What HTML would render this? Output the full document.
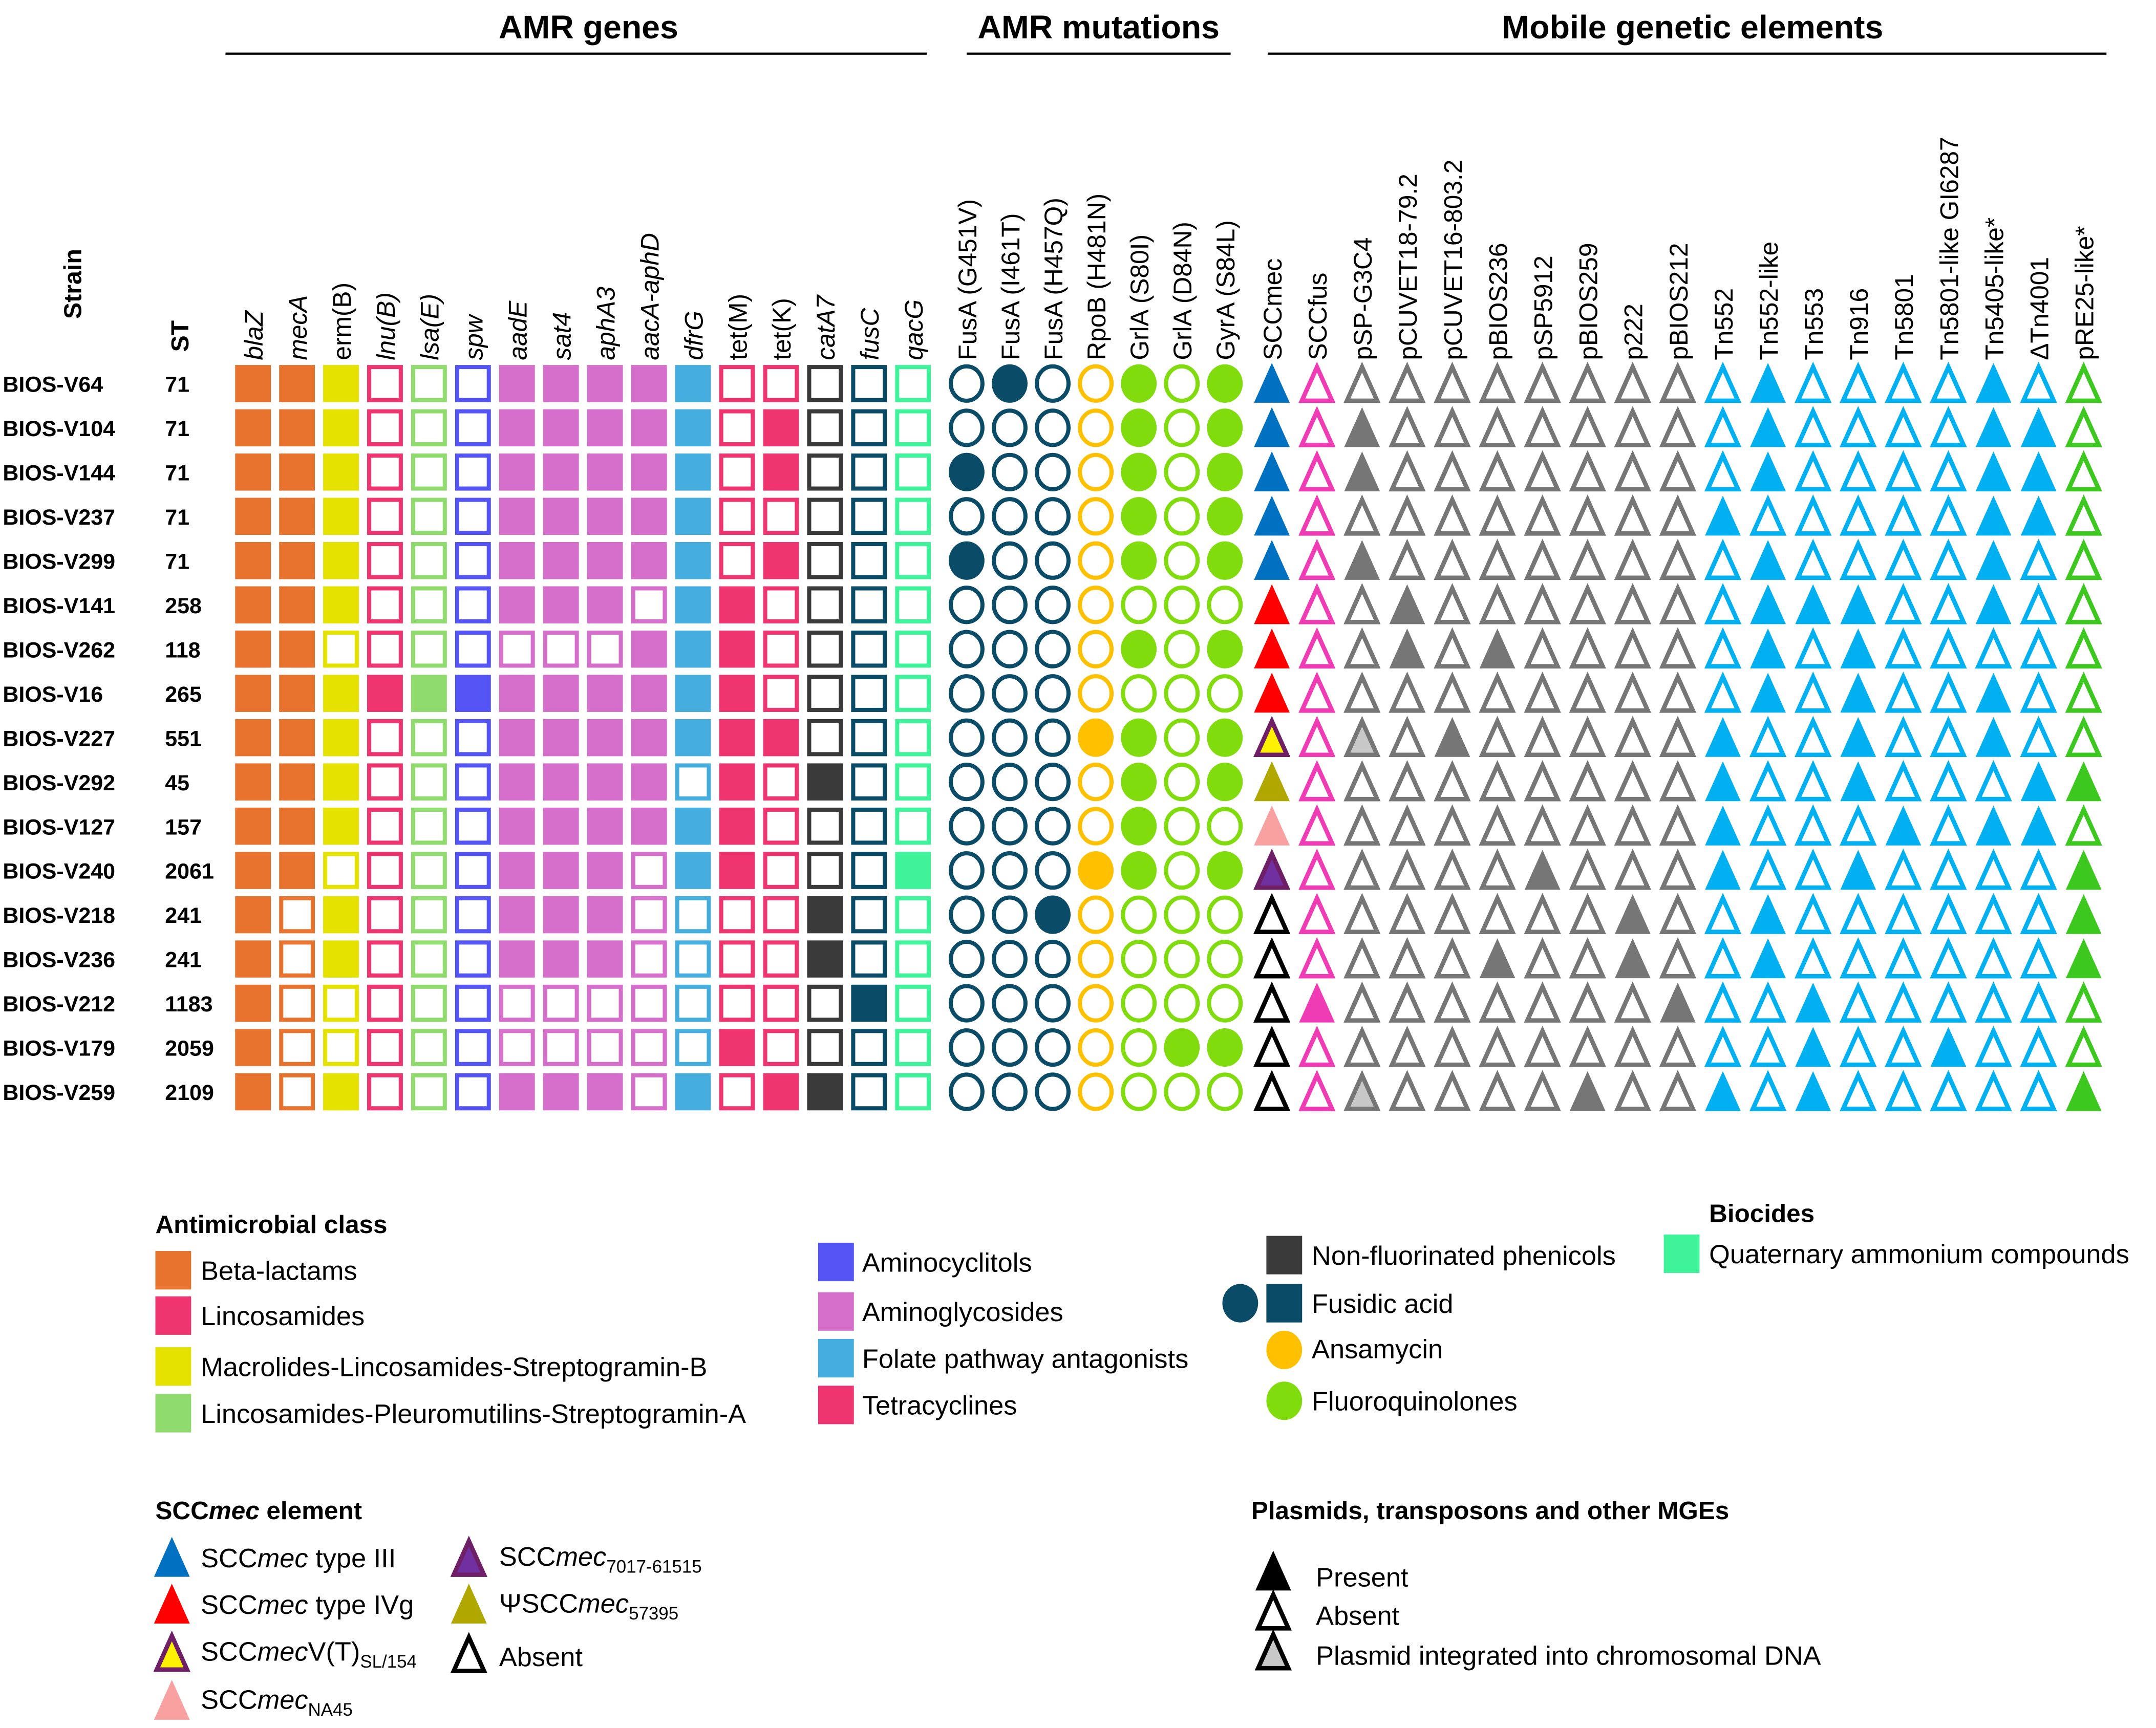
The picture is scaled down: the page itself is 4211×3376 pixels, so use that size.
<!DOCTYPE html>
<html><head><meta charset="utf-8">
<style>
html,body{margin:0;padding:0;background:#fff;}
svg{display:block;}
text{font-family:"Liberation Sans",sans-serif;}
</style></head>
<body>
<svg id="chart" xmlns="http://www.w3.org/2000/svg" width="4211" height="3376" viewBox="0 0 1568 1257" preserveAspectRatio="none">
<rect width="1568" height="1257" fill="#fff"/>
<g id="hdr">
<text x="428" y="28" font-size="24" font-weight="bold" text-anchor="middle">AMR genes</text>
<text x="799" y="28" font-size="24" font-weight="bold" text-anchor="middle">AMR mutations</text>
<text x="1231" y="28" font-size="24" font-weight="bold" text-anchor="middle">Mobile genetic elements</text>
<line x1="164" y1="39" x2="674" y2="39" stroke="#000" stroke-width="1.6"/>
<line x1="703" y1="39" x2="895" y2="39" stroke="#000" stroke-width="1.6"/>
<line x1="922" y1="39" x2="1532" y2="39" stroke="#000" stroke-width="1.6"/>
</g>
<g id="grid"></g>
<g id="legend"></g>
</svg>
<script>
const strains=["BIOS-V64","BIOS-V104","BIOS-V144","BIOS-V237","BIOS-V299","BIOS-V141","BIOS-V262","BIOS-V16","BIOS-V227","BIOS-V292","BIOS-V127","BIOS-V240","BIOS-V218","BIOS-V236","BIOS-V212","BIOS-V179","BIOS-V259"];
const stValues=["71","71","71","71","71","258","118","265","551","45","157","2061","241","241","1183","2059","2109"];
const geneNames=["blaZ","mecA","erm(B)","lnu(B)","lsa(E)","spw","aadE","sat4","aphA3","aacA-aphD","dfrG","tet(M)","tet(K)","catA7","fusC","qacG"];
const geneColors=["#E8732F","#E8732F","#E6E200","#EE3570","#8FDB6E","#5555F5","#D56FCB","#D56FCB","#D56FCB","#D56FCB","#46AEDF","#EE3570","#EE3570","#3A3A3A","#0A4C68","#3EF39A"];
const geneValues=[
[1,1,1,0,0,0,1,1,1,1,1,0,0,0,0,0],
[1,1,1,0,0,0,1,1,1,1,1,0,1,0,0,0],
[1,1,1,0,0,0,1,1,1,1,1,0,1,0,0,0],
[1,1,1,0,0,0,1,1,1,1,1,0,0,0,0,0],
[1,1,1,0,0,0,1,1,1,1,1,0,1,0,0,0],
[1,1,1,0,0,0,1,1,1,0,1,1,0,0,0,0],
[1,1,0,0,0,0,0,0,0,1,1,1,0,0,0,0],
[1,1,1,1,1,1,1,1,1,1,1,1,0,0,0,0],
[1,1,1,0,0,0,1,1,1,1,1,1,1,0,0,0],
[1,1,1,0,0,0,1,1,1,1,0,1,0,1,0,0],
[1,1,1,0,0,0,1,1,1,1,1,1,0,0,0,0],
[1,1,0,0,0,0,1,1,1,0,1,1,0,0,0,1],
[1,0,1,0,0,0,1,1,1,0,0,0,0,1,0,0],
[1,0,1,0,0,0,1,1,1,0,0,0,0,1,0,0],
[1,0,0,0,0,0,0,0,0,0,0,0,0,0,1,0],
[1,0,0,0,0,0,0,0,0,0,0,1,0,0,0,0],
[1,0,1,0,0,0,1,1,1,0,1,0,1,1,0,0]];
const geneItalic=[1,1,0,1,1,1,1,1,1,1,1,0,0,1,1,1];
const mutNames=["FusA (G451V)","FusA (I461T)","FusA (H457Q)","RpoB (H481N)","GrlA (S80I)","GrlA (D84N)","GyrA (S84L)"];
const mutColors=["#0A4C68","#0A4C68","#0A4C68","#FFC000","#80DC0C","#80DC0C","#80DC0C"];
const mutValues=[
[0,1,0,0,1,0,1],[0,0,0,0,1,0,1],[1,0,0,0,1,0,1],[0,0,0,0,1,0,1],[1,0,0,0,1,0,1],
[0,0,0,0,0,0,0],[0,0,0,0,1,0,1],[0,0,0,0,0,0,0],[0,0,0,1,1,0,1],[0,0,0,0,1,0,1],
[0,0,0,0,1,0,0],[0,0,0,1,1,0,1],[0,0,1,0,0,0,0],[0,0,0,0,0,0,0],[0,0,0,0,0,0,0],
[0,0,0,0,0,1,1],[0,0,0,0,0,0,0]];
const sccmecTypes=["III","III","III","III","III","IVg","IVg","IVg","VT","PSI","NA45","7017","absent","absent","absent","absent","absent"];
const sccfusValues=[0,0,0,0,0,0,0,0,0,0,0,0,0,0,1,0,0];
const plasmidNames=["pSP-G3C4","pCUVET18-79.2","pCUVET16-803.2","pBIOS236","pSP5912","pBIOS259","p222","pBIOS212"];
const plasmidValues=[
[0,0,0,0,0,0,0,0],[1,0,0,0,0,0,0,0],[1,0,0,0,0,0,0,0],[0,0,0,0,0,0,0,0],[1,0,0,0,0,0,0,0],
[0,1,0,0,0,0,0,0],[0,1,0,1,0,0,0,0],[0,0,0,0,0,0,0,0],[2,0,1,0,0,0,0,0],[0,0,0,0,0,0,0,0],
[0,0,0,0,0,0,0,0],[0,0,0,0,1,0,0,0],[0,0,0,0,0,0,1,0],[0,0,0,1,0,0,1,0],[0,0,0,0,0,0,0,1],
[0,0,0,0,0,0,0,0],[2,0,0,0,0,1,0,0]];
const tnNames=["Tn552","Tn552-like","Tn553","Tn916","Tn5801","Tn5801-like GI6287","Tn5405-like*","ΔTn4001"];
const tnValues=[
[0,1,0,0,0,0,1,0],[0,1,0,0,0,0,1,1],[0,1,0,0,0,0,1,1],[1,0,0,0,0,0,1,1],[0,1,0,0,0,0,1,0],
[0,1,1,1,0,0,1,0],[0,1,0,1,0,0,0,0],[0,1,0,1,0,0,1,0],[1,0,0,1,0,0,1,0],[1,0,0,1,0,0,0,1],
[1,0,0,0,1,0,1,1],[1,0,0,1,0,0,0,0],[0,1,0,0,0,0,0,0],[0,1,0,0,0,0,0,0],[0,0,1,0,0,0,0,0],
[0,0,1,0,0,1,0,0],[1,0,1,0,0,0,0,0]];
const pre25Values=[0,0,0,0,0,0,0,0,0,1,0,1,1,1,0,0,1];

const NS="http://www.w3.org/2000/svg";
function mk(tag,attrs,parent){const e=document.createElementNS(NS,tag);for(const k in attrs)e.setAttribute(k,attrs[k]);parent.appendChild(e);return e;}
const grid=document.getElementById('grid');
const yRow=i=>279+i*32.2;
const xGene=j=>184+j*32;
const xMut=j=>703+j*31.3;
const xMge=j=>925+j*32.8;
const LABY=262;

function colLabel(x,txt,italic,name){
  const t=mk('text',{x:0,y:0,'font-size':18.5,'font-family':'"DejaVu Sans",sans-serif',transform:`translate(${x+7},${LABY}) rotate(-90)`},grid);
  
  
  if(italic)t.setAttribute('font-style','italic');
  t.textContent=txt;return t;
}
function square(x,y,color,filled,name){
  const r=filled?mk('rect',{x:x-13,y:y-13.5,width:26,height:27,fill:color},grid):mk('rect',{x:x-11.5,y:y-12,width:23,height:24,fill:'#fff',stroke:color,'stroke-width':3},grid);
  
  
}
function circle(x,y,color,filled,name){
  const c=filled?mk('ellipse',{cx:x,cy:y,rx:13,ry:14,fill:color},grid):mk('ellipse',{cx:x,cy:y,rx:11.5,ry:12.5,fill:'#fff',stroke:color,'stroke-width':3},grid);
  
  
}
function tri(x,y,color,filled,name,inner,parent){
  parent=parent||grid;
  const pts=`${x},${y-15} ${x+13},${y+14} ${x-13},${y+14}`;
  let p;
  if(filled){p=mk('polygon',{points:pts,fill:color},parent);}
  else{p=mk('polygon',{points:`${x},${y-12} ${x+11},${y+12.5} ${x-11},${y+12.5}`,fill:inner||'#fff',stroke:color,'stroke-width':3.2,'stroke-linejoin':'miter'},parent);}
  
  
}
const sl=mk('text',{x:0,y:0,'font-size':18,'font-weight':'bold','font-family':'"DejaVu Sans",sans-serif',transform:`translate(59,232) rotate(-90)`},grid);


sl.textContent='Strain';
const stl=mk('text',{x:0,y:0,'font-size':18,'font-weight':'bold','font-family':'"DejaVu Sans",sans-serif',transform:`translate(137,256) rotate(-90)`},grid);


stl.textContent='ST';
strains.forEach((s,i)=>{
  const t=mk('text',{x:2,y:yRow(i)+6,'font-size':16,'font-weight':'bold'},grid);
  
  
  t.textContent=s;
  const u=mk('text',{x:120,y:yRow(i)+6,'font-size':16,'font-weight':'bold'},grid);
  
  
  u.textContent=stValues[i];
});
geneNames.forEach((g,j)=>colLabel(xGene(j),g,geneItalic[j],'gene-column-label'));
mutNames.forEach((g,j)=>colLabel(xMut(j),g,0,'mutation-column-label'));
const mgeLabels=["SCCmec","SCCfus"].concat(plasmidNames,tnNames,["pRE25-like*"]);
mgeLabels.forEach((g,j)=>colLabel(xMge(j),g,0,'mge-column-label'));

const sccColor={III:"#0070C0",IVg:"#FF0000",PSI:"#B0A800",NA45:"#F9A0A0"};
strains.forEach((s,i)=>{
  const y=yRow(i);
  geneValues[i].forEach((v,j)=>square(xGene(j),y,geneColors[j],v===1,'gene-cell'));
  mutValues[i].forEach((v,j)=>circle(xMut(j),y,mutColors[j],v===1,'mutation-cell'));
  const t=sccmecTypes[i];
  if(t==='VT')tri(xMge(0),y,'#6E1F66',false,'sccmec-cell','#FFF200');
  else if(t==='7017')tri(xMge(0),y,'#6E1F66',false,'sccmec-cell','#7030A0');
  else if(t==='absent')tri(xMge(0),y,'#000',false,'sccmec-cell');
  else tri(xMge(0),y,sccColor[t],true,'sccmec-cell');
  tri(xMge(1),y,'#F03CB4',sccfusValues[i]===1,'sccfus-cell');
  plasmidValues[i].forEach((v,j)=>{
    if(v===2)tri(xMge(2+j),y,'#767676',false,'plasmid-cell','#C8C8C8');
    else tri(xMge(2+j),y,'#767676',v===1,'plasmid-cell');
  });
  tnValues[i].forEach((v,j)=>tri(xMge(10+j),y,'#00B0F0',v===1,'transposon-cell'));
  tri(xMge(18),y,'#3CC81E',pre25Values[i]===1,'pre25-cell');
});

const L=document.getElementById('legend');
const LF=19.5;
function ltext(x,y,txt,size,bold,name){
  const t=mk('text',{x:x,y:y,'font-size':size||LF},L);
  if(bold)t.setAttribute('font-weight','bold');
  
  
  t.innerHTML=txt;return t;
}
function lsq(x,y,c){const r=mk('rect',{x:x,y:y-14,width:26,height:28,fill:c},L);
  
  }
function lci(x,y,c){const r=mk('ellipse',{cx:x,cy:y,rx:13,ry:14,fill:c},L);
  
  }
ltext(113,897,'Antimicrobial class',18.4,true,'legend-title');
[["Beta-lactams","#E8732F",924],["Lincosamides","#EE3570",957],["Macrolides-Lincosamides-Streptogramin-B","#E6E200",994],["Lincosamides-Pleuromutilins-Streptogramin-A","#8FDB6E",1028]].forEach(a=>{lsq(113,a[2],a[1]);ltext(146,a[2]+7,a[0]);});
[["Aminocyclitols","#5555F5",918],["Aminoglycosides","#D56FCB",954],["Folate pathway antagonists","#46AEDF",988],["Tetracyclines","#EE3570",1022]].forEach(a=>{lsq(595,a[2],a[1]);ltext(627,a[2]+7,a[0]);});
lsq(921,913,"#3A3A3A");ltext(954,920,"Non-fluorinated phenicols");
lci(902,948,"#0A4C68");lsq(921,948,"#0A4C68");ltext(954,955,"Fusidic acid");
lci(934,982,"#FFC000");ltext(954,988,"Ansamycin");
lci(934,1019,"#80DC0C");ltext(954,1026,"Fluoroquinolones");
ltext(1243,889,'Biocides',18.4,true,'legend-title');
lsq(1210,912,"#3EF39A");ltext(1243,919,"Quaternary ammonium compounds");
ltext(113,1105,'SCC<tspan font-style="italic">mec</tspan> element',18.4,true,'legend-title');
tri(125,1133,"#0070C0",true,'legend-swatch',null,L);ltext(146,1140,'SCC<tspan font-style="italic">mec</tspan> type III');
tri(125,1167,"#FF0000",true,'legend-swatch',null,L);ltext(146,1174,'SCC<tspan font-style="italic">mec</tspan> type IVg');
tri(125,1202,"#6E1F66",false,'legend-swatch','#FFF200',L);ltext(146,1208,'SCC<tspan font-style="italic">mec</tspan>V(T)<tspan font-size="13" dy="5">SL/154</tspan>');
tri(125,1237,"#F9A0A0",true,'legend-swatch',null,L);ltext(146,1243,'SCC<tspan font-style="italic">mec</tspan><tspan font-size="13" dy="5">NA45</tspan>');
tri(341,1133,"#6E1F66",false,'legend-swatch','#7030A0',L);ltext(363,1139,'SCC<tspan font-style="italic">mec</tspan><tspan font-size="13" dy="5">7017-61515</tspan>');
tri(341,1167,"#B0A800",true,'legend-swatch',null,L);ltext(363,1173,'ΨSCC<tspan font-style="italic">mec</tspan><tspan font-size="13" dy="5">57395</tspan>');
tri(341,1203,"#000",false,'legend-swatch',null,L);ltext(363,1212,'Absent');
ltext(910,1105,'Plasmids, transposons and other MGEs',18.4,true,'legend-title');
tri(926,1143,"#000",true,'legend-swatch',null,L);ltext(957,1154,'Present');
tri(926,1172,"#000",false,'legend-swatch',null,L);ltext(957,1182,'Absent');
tri(926,1201,"#000",false,'legend-swatch','#C8C8C8',L);ltext(957,1211,'Plasmid integrated into chromosomal DNA');
</script>
</body></html>
